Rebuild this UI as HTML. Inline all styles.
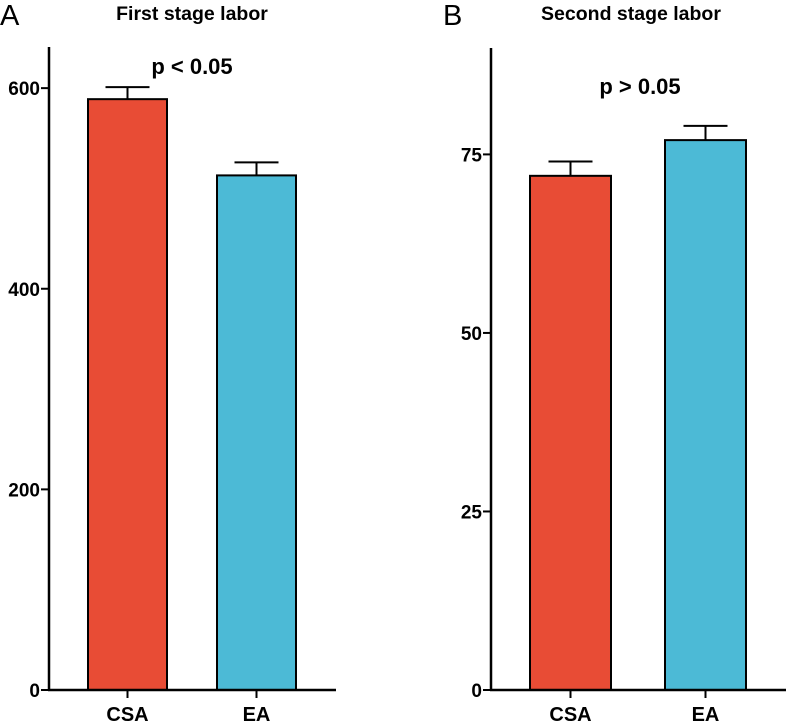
<!DOCTYPE html>
<html><head><meta charset="utf-8">
<style>
body{margin:0;background:#fff;}
svg{display:block;font-family:"Liberation Sans",Arial,sans-serif;font-weight:bold;}
</style></head>
<body>
<svg id="chart" width="786" height="725" viewBox="0 0 786 725" xmlns="http://www.w3.org/2000/svg">
<text x="0" y="25" font-size="29" font-weight="normal">A</text>
<text x="443" y="25" font-size="29" font-weight="normal">B</text>
<text x="192" y="20" font-size="19.5" text-anchor="middle">First stage labor</text>
<text x="631" y="20" font-size="19.5" text-anchor="middle">Second stage labor</text>
<text x="192" y="74" font-size="22" text-anchor="middle">p &lt; 0.05</text>
<text x="640" y="94" font-size="22" text-anchor="middle">p &gt; 0.05</text>
</svg>
<script>
const categories = ["CSA", "EA"];
const firstValues = [589, 513];
const firstErrors = [12, 13];
const firstTicks = [0, 200, 400, 600];
const secondValues = [72, 77];
const secondErrors = [2, 2];
const secondTicks = [0, 25, 50, 75];
const colors = ["#e84c35", "#4cbad6"];

const svg = document.getElementById('chart');
const NS = "http://www.w3.org/2000/svg";
function mk(tag, attrs, parent) {
  const e = document.createElementNS(NS, tag);
  for (const k in attrs) e.setAttribute(k, attrs[k]);
  (parent || svg).appendChild(e);
  return e;
}
function panel(cfg) {
  const g = mk('g', {});
  
  
  const y = v => cfg.y0 - (v / cfg.vmax) * (cfg.y0 - cfg.yTop);
  cfg.values.forEach((v, i) => {
    const x0 = cfg.barX[i];
    const top = y(v), etop = y(v + cfg.errors[i]);
    const cx = x0 + cfg.barW / 2;
    const el = mk('line', {x1: cx, x2: cx, y1: top, y2: etop, stroke: '#000', 'stroke-width': 2}, g);
    
    
    const cap = mk('line', {x1: cx - 22, x2: cx + 22, y1: etop, y2: etop, stroke: '#000', 'stroke-width': 2}, g);
    
    
    const r = mk('rect', {x: x0, y: top, width: cfg.barW, height: cfg.y0 - top, fill: colors[i], stroke: '#000', 'stroke-width': 2}, g);
    
    
    const t = mk('line', {x1: cx, x2: cx, y1: cfg.y0, y2: cfg.y0 + 8, stroke: '#000', 'stroke-width': 2}, g);
    
    
    const lb = mk('text', {x: cx, y: cfg.y0 + 31, 'font-size': 20, 'text-anchor': 'middle'}, g);
    lb.textContent = categories[i];
    
    
  });
  const ya = mk('line', {x1: cfg.ax, x2: cfg.ax, y1: cfg.yTop, y2: cfg.y0 + 1, stroke: '#000', 'stroke-width': 2.5}, g);
  
  
  const xa = mk('line', {x1: cfg.ax - 1, x2: cfg.xEnd, y1: cfg.y0, y2: cfg.y0, stroke: '#000', 'stroke-width': 2.5}, g);
  
  
  cfg.ticks.forEach(v => {
    const ty = y(v);
    const tk = mk('line', {x1: cfg.ax - 8, x2: cfg.ax, y1: ty, y2: ty, stroke: '#000', 'stroke-width': 2}, g);
    
    
    const tl = mk('text', {x: cfg.ax - 9, y: ty + 7, 'font-size': 19, 'text-anchor': 'end'}, g);
    tl.textContent = v;
    
    
  });
}
panel({name: 'first-stage-panel', values: firstValues, errors: firstErrors, ticks: firstTicks,
  ax: 49, xEnd: 336, y0: 690, yTop: 47, vmax: 641, barX: [88, 217], barW: 79});
panel({name: 'second-stage-panel', values: secondValues, errors: secondErrors, ticks: secondTicks,
  ax: 491, xEnd: 786, y0: 690, yTop: 48, vmax: 89.9, barX: [530, 665], barW: 81});
</script>
</body></html>
